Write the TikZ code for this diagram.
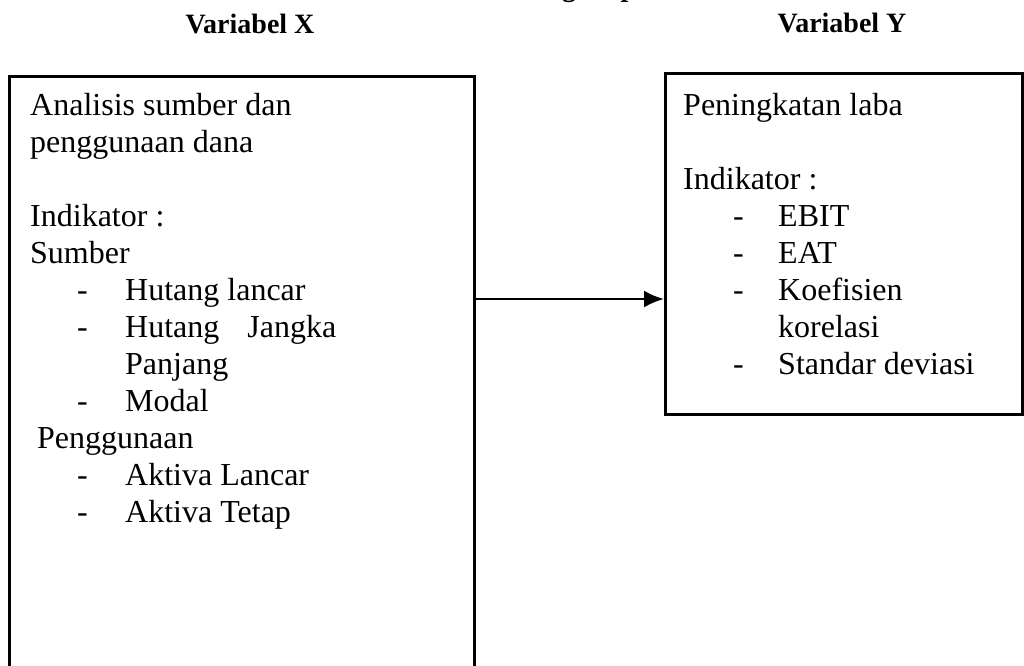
\documentclass[tikz,border=0pt]{standalone}
\usepackage{fontspec}
\setmainfont{Liberation Serif}
\usetikzlibrary{arrows.meta}
\tikzset{
	txt/.style={anchor=base west,inner sep=0pt,font=\fontsize{32}{37}\selectfont},
	head/.style={anchor=base,inner sep=0pt,font=\fontsize{28}{32}\selectfont\bfseries},
	box/.style={draw,line width=2.6pt,inner sep=0pt,anchor=north west},
}
\begin{document}
\begin{tikzpicture}[x=1pt,y=-1pt]
	\useasboundingbox (0,0) rectangle (1024,665);
	%
	%  HEADINGS
	%
	\node[head] (0) at (610,-4) {Paradigma penelitian};
	\node[head] (hx) at (250,33) {Variabel X};
	\node[head] (hy) at (842,32) {Variabel Y};
	%
	%  BOXES
	%
	\node[box,minimum width=465pt,minimum height=700pt] (X) at (8,75) {};
	\node[box,minimum width=357pt,minimum height=341pt] (Y) at (664,72) {};
	%
	%  VARIABEL X
	%
	\node[txt] (x1) at (30,115) {Analisis sumber dan};
	\node[txt] (x2) at (30,152) {penggunaan dana};
	\node[txt] (x3) at (30,226) {Indikator :};
	\node[txt] (x4) at (30,263) {Sumber};
	\node[txt] (x5) at (77,300) {-};
	\node[txt] (x6) at (125,300) {Hutang lancar};
	\node[txt] (x7) at (77,337) {-};
	\node[txt] (x8) at (125,337) {Hutang\hspace{20pt} Jangka};
	\node[txt] (x9) at (125,374) {Panjang};
	\node[txt] (x10) at (77,411) {-};
	\node[txt] (x11) at (125,411) {Modal};
	\node[txt] (x12) at (37,448) {Penggunaan};
	\node[txt] (x13) at (77,485) {-};
	\node[txt] (x14) at (125,485) {Aktiva Lancar};
	\node[txt] (x15) at (77,522) {-};
	\node[txt] (x16) at (125,522) {Aktiva Tetap};
	%
	%  VARIABEL Y
	%
	\node[txt] (y1) at (683,115) {Peningkatan laba};
	\node[txt] (y2) at (683,189) {Indikator :};
	\node[txt] (y3) at (733,226) {-};
	\node[txt] (y4) at (778,226) {EBIT};
	\node[txt] (y5) at (733,263) {-};
	\node[txt] (y6) at (778,263) {EAT};
	\node[txt] (y7) at (733,300) {-};
	\node[txt] (y8) at (778,300) {Koefisien};
	\node[txt] (y9) at (778,337) {korelasi};
	\node[txt] (y10) at (733,374) {-};
	\node[txt] (y11) at (778,374) {Standar deviasi};
	%
	%  ARROW
	%
	\coordinate (a) at (0,299);
	\path[-{Latex[length=20pt,width=17pt]},line width=2.6pt]
	(X.east |- a) edge (Y.west |- a);
\end{tikzpicture}
\end{document}
